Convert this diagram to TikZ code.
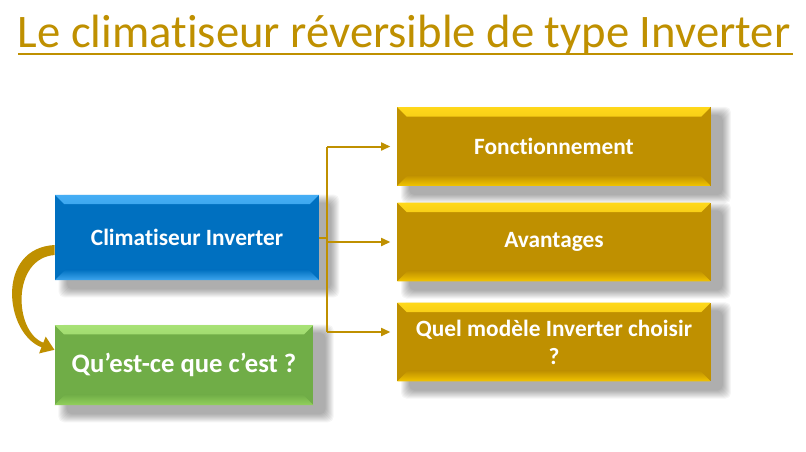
\documentclass[tikz,border=0pt]{standalone}
\usepackage{fontspec}
\setmainfont[Ligatures=NoCommon]{Carlito}
\usepackage{tikz}
\usetikzlibrary{arrows.meta,backgrounds}
\definecolor{gold}{HTML}{BF9000}
\definecolor{goldtop}{HTML}{FFD81A}
\definecolor{goldbot}{HTML}{F2C500}
\definecolor{cblue}{HTML}{0070C0}
\definecolor{bluetop}{HTML}{45AEF5}
\definecolor{bluebot}{HTML}{3FA6EE}
\definecolor{cgreen}{HTML}{70AD47}
\definecolor{greentop}{HTML}{A8E276}
\definecolor{greenbot}{HTML}{92D05C}

\newcommand{\bevel}[3]{%
  \shade[top color=#2, bottom color=#1] (path picture bounding box.north west)
    -- (path picture bounding box.north east)
    -- ([shift={(-7pt,-7pt)}]path picture bounding box.north east)
    -- ([shift={(7pt,-7pt)}]path picture bounding box.north west) -- cycle;
  \shade[top color=#1, bottom color=#3] (path picture bounding box.south west)
    -- (path picture bounding box.south east)
    -- ([shift={(-8pt,8pt)}]path picture bounding box.south east)
    -- ([shift={(8pt,8pt)}]path picture bounding box.south west) -- cycle;}
\newcommand{\boxshadow}[1]{%
  \foreach \s in {0,...,8}
    \fill[black, opacity=0.04, rounded corners=4pt]
      ([shift={(4+\s,\s)}]#1.north west) rectangle ([shift={(20-\s,17-\s)}]#1.south east);}

\tikzstyle{box}=[rectangle, inner sep=0pt, align=center, text=white,
    font=\fontsize{17.5}{21}\selectfont\bfseries]
\tikzstyle{bluebox}=[box, fill=cblue, minimum width=198pt, minimum height=64pt,
    path picture={\bevel{cblue}{bluetop}{bluebot}}]
\tikzstyle{greenbox}=[box, fill=cgreen, minimum width=194pt, minimum height=60pt,
    font=\fontsize{20}{24}\selectfont\bfseries,
    path picture={\bevel{cgreen}{greentop}{greenbot}}]
\tikzstyle{goldbox}=[box, fill=gold, minimum width=235pt, minimum height=59pt,
    path picture={\bevel{gold}{goldtop}{goldbot}}]
\tikzstyle{link}=[draw=gold, line width=1.5pt]
\tikzstyle{linkarrow}=[link, -{Triangle[length=7pt,width=6pt]}, shorten >=5pt]

\begin{document}
\begin{tikzpicture}[x=0.75pt, y=-0.75pt]
    \useasboundingbox (0,0) rectangle (806,451);
    \node[text=gold, font=\fontsize{35}{40}\selectfont, anchor=base] (title) at (404,47)
        {Le climatiseur réversible de type Inverter};
    \draw[gold, line width=2.2pt] (18,54) -- (793,54);

    \node[bluebox] (clim) at (187,237.5) {Climatiseur Inverter};
    \node[greenbox] (quoi) at (184,365) {Qu’est-ce que c’est ?};
    \node[goldbox] (fonc) at (554,146.5) {Fonctionnement};
    \node[goldbox] (avan) at (554,242) {Avantages};
    \node[goldbox] (quel) at (554,342) {Quel modèle Inverter choisir\\?};

    \begin{scope}[on background layer]
        \fill[white] (0,0) rectangle (806,451);
        \boxshadow{clim} \boxshadow{quoi}
        \boxshadow{fonc} \boxshadow{avan} \boxshadow{quel}
    \end{scope}

    \draw[link] (clim.east) -- ++(8,0) coordinate (fork);
    \draw[link] (fork |- fonc.west) -- ([yshift=7.5pt]fork |- quel.west);
    \draw[linkarrow] (fork |- fonc.west) -- (fonc.west);
    \draw[linkarrow] (fork |- avan.west) -- (avan.west);
    \draw[linkarrow] ([yshift=7.5pt]fork |- quel.west) -- ([yshift=7.5pt]quel.west);

    \fill[gold] ([shift={(0,7.5)}]clim.west)
        .. controls ([shift={(-59,10.5)}]clim.west) and ([shift={(-50,-32)}]quoi.west)
        .. ([shift={(-12.9,-17.7)}]quoi.west)
        -- ([shift={(-15.3,-11.6)}]quoi.west)
        -- ([shift={(0,-15.2)}]quoi.west)
        -- ([shift={(-8.7,-28.4)}]quoi.west)
        -- ([shift={(-11.1,-22.3)}]quoi.west)
        .. controls ([shift={(-41,-34)}]quoi.west) and ([shift={(-43,20.5)}]clim.west)
        .. ([shift={(0,17.5)}]clim.west) -- cycle;
\end{tikzpicture}
\end{document}
